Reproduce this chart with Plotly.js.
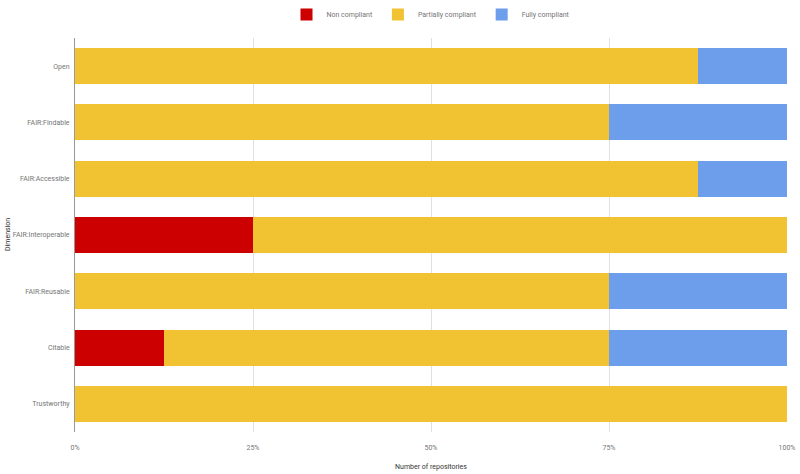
<!DOCTYPE html>
<html>
<head>
<meta charset="utf-8">
<script src="https://cdn.plot.ly/plotly-3.0.1.min.js"></script>
<style>
  html, body { margin: 0; padding: 0; background: #fff; }
  #chart { width: 800px; height: 474px; }
</style>
</head>
<body>
<div id="chart"></div>
<script>
// Share of repositories per dimension (percent), top to bottom
const dimensions = ['Open', 'FAIR:Findable', 'FAIR:Accessible', 'FAIR:Interoperable',
                    'FAIR:Reusable', 'Citable', 'Trustworthy'];
const nonCompliant = [0, 0, 0, 25, 0, 12.5, 0];
const partiallyCompliant = [87.5, 75, 87.5, 75, 75, 62.5, 100];
const fullyCompliant = [12.5, 25, 12.5, 0, 25, 25, 0];
const xTicks = [0, 25, 50, 75, 100];
const xTickLabels = ['0%', '25%', '50%', '75%', '100%'];

const series = [
  { name: 'Non compliant', values: nonCompliant, color: '#cc0000' },
  { name: 'Partially compliant', values: partiallyCompliant, color: '#f1c232' },
  { name: 'Fully compliant', values: fullyCompliant, color: '#6d9eeb' },
];

const traces = series.map(s => ({
  type: 'bar',
  orientation: 'h',
  name: s.name,
  x: s.values,
  y: dimensions,
  marker: { color: s.color, line: { width: 0 } },
  hovertemplate: `${s.name}: %{x}%<extra>%{y}</extra>`,
}));

const layout = {
  width: 800,
  height: 474,
  barmode: 'stack',
  bargap: 0.36,
  font: { family: 'Roboto, sans-serif', size: 7, color: '#757575' },
  margin: { t: 38, b: 42, l: 75, r: 13 },
  plot_bgcolor: '#fff',
  paper_bgcolor: '#fff',
  showlegend: true,
  legend: {
    orientation: 'h',
    x: 0.5, xanchor: 'center',
    y: 1, yref: 'container', yanchor: 'top',
    font: { size: 7, color: '#757575' },
    itemwidth: 30,
    traceorder: 'normal',
  },
  xaxis: {
    range: [0, 100],
    tickvals: xTicks,
    ticktext: xTickLabels,
    showgrid: true,
    gridcolor: '#e0e0e0',
    gridwidth: 1,
    zeroline: false,
    showline: false,
    ticks: '',
    ticklabelstandoff: 10,
    tickfont: { size: 7, color: '#757575' },
    title: { text: 'Number of repositories', font: { size: 7, color: '#333' }, standoff: 13 },
    fixedrange: true,
  },
  yaxis: {
    autorange: 'reversed',
    showgrid: false,
    showline: true,
    linecolor: '#999',
    linewidth: 1,
    ticks: '',
    ticklabelstandoff: 3,
    tickfont: { size: 7, color: '#757575' },
    fixedrange: true,
  },
  annotations: [{
    text: 'Dimension',
    xref: 'paper', yref: 'paper',
    x: -67 / 712, y: 0.5,
    xanchor: 'center', yanchor: 'middle',
    textangle: -90,
    showarrow: false,
    font: { size: 7, color: '#333' },
  }],
};

Plotly.newPlot('chart', traces, layout, { displayModeBar: false, staticPlot: true });
</script>
</body>
</html>
